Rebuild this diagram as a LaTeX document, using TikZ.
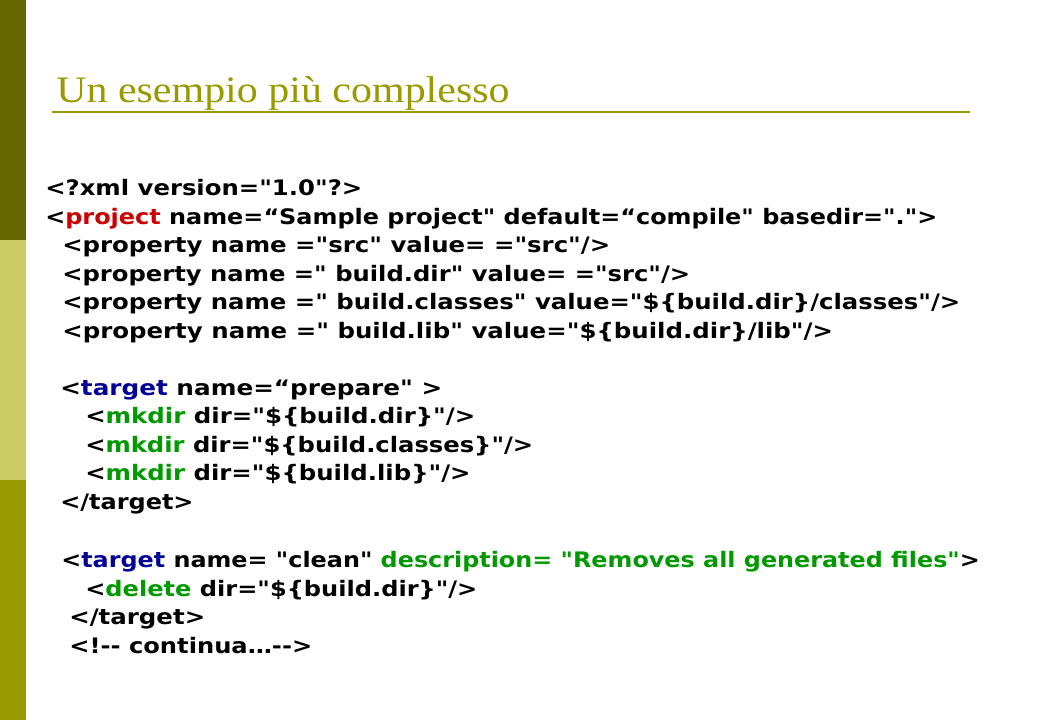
\documentclass[tikz,border=0pt]{standalone}
\usepackage{fontspec}
\usepackage{graphicx}
\usepackage{tikz}
\setmainfont{Liberation Serif}
\newfontfamily\codefont{DejaVu Sans}
\definecolor{bartop}{HTML}{666600}
\definecolor{barmid}{HTML}{CCCC66}
\definecolor{barlow}{HTML}{999900}
\definecolor{titleolive}{HTML}{999900}
\definecolor{tagred}{HTML}{CC0000}
\definecolor{tagblue}{HTML}{000099}
\definecolor{taggreen}{HTML}{009900}
\newcommand{\fitline}[2]{\resizebox{#1}{\height}{#2}}

\begin{document}
\begin{tikzpicture}[x=0.75pt, y=-0.75pt,
    code/.style={anchor=base west, inner sep=0pt, font=\codefont\bfseries\fontsize{16}{16}\selectfont},
    slidetitle/.style={anchor=base west, inner sep=0pt, text=titleolive, font=\fontsize{28}{28}\selectfont}]
            \useasboundingbox (0,0) rectangle (1040,720);
            \fill [white] (0,0) rectangle (1040,720);
            % side bar
            \fill [bartop] (0,0) rectangle (26,240);
            \fill [barmid] (0,240) rectangle (26,480);
            \fill [barlow] (0,480) rectangle (26,720);
            % title
            \node [slidetitle] (title) at (56,103) {\fitline{340pt}{Un esempio più complesso}};
            \draw [titleolive, line width=1.5pt] (52,112) -- (970,112);
            % code
            \node [code] (xmlline) at (45,196) {\fitline{237.75pt}{<?xml version="1.0"?>}};
            \node [code] (projectline) at (45,224.5) {\fitline{669pt}{<\textcolor{tagred}{project} name=“Sample project" default=“compile" basedir=".">}};
            \node [code] (propsrc) at (62,253) {\fitline{411pt}{<property name ="src" value= ="src"/>}};
            \node [code] (propdir) at (62,281.5) {\fitline{471pt}{<property name =" build.dir" value= ="src"/>}};
            \node [code] (propclasses) at (62,310) {\fitline{673.5pt}{<property name =" build.classes" value="\$\{build.dir\}/classes"/>}};
            \node [code] (proplib) at (62,338.5) {\fitline{578pt}{<property name =" build.lib" value="\$\{build.dir\}/lib"/>}};
            \node [code] (prepareline) at (60,395.5) {\fitline{286.5pt}{<\textcolor{tagblue}{target} name=“prepare" >}};
            \node [code] (mkdirdir) at (85,424) {\fitline{292.5pt}{<\textcolor{taggreen}{mkdir} dir="\$\{build.dir\}"/>}};
            \node [code] (mkdirclasses) at (85,452.5) {\fitline{336pt}{<\textcolor{taggreen}{mkdir} dir="\$\{build.classes\}"/>}};
            \node [code] (mkdirlib) at (85,481) {\fitline{289pt}{<\textcolor{taggreen}{mkdir} dir="\$\{build.lib\}"/>}};
            \node [code] (prepareend) at (60,509.5) {\fitline{100pt}{</target>}};
            \node [code] (cleanline) at (61,567) {\fitline{689pt}{<\textcolor{tagblue}{target} name= "clean" \textcolor{taggreen}{description= "Removes all generated files"}>}};
            \node [code] (deleteline) at (85,596) {\fitline{294pt}{<\textcolor{taggreen}{delete} dir="\$\{build.dir\}"/>}};
            \node [code] (cleanend) at (69,624.5) {\fitline{102pt}{</target>}};
            \node [code] (commentline) at (69,653) {\fitline{182.25pt}{<!-{}- continua…-{}->}};
        \end{tikzpicture}
\end{document}
